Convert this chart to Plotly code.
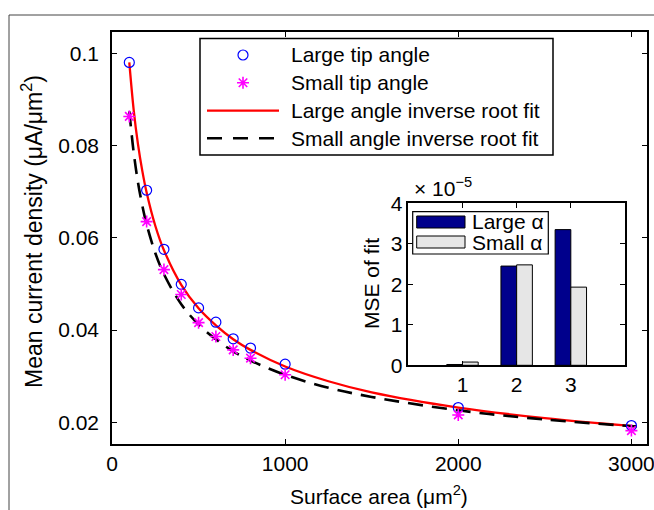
import plotly.graph_objects as go

# ---------------- data ----------------
area = [100, 200, 300, 400, 500, 600, 700, 800, 1000, 2000, 3000]
large_tip = [0.0980, 0.0703, 0.0575, 0.0499, 0.0448, 0.0417, 0.0381, 0.0361, 0.0326, 0.0232, 0.0193]
small_tip = [0.0863, 0.0635, 0.0531, 0.0477, 0.0416, 0.0386, 0.0357, 0.0339, 0.0303, 0.0216, 0.0182]

fit_x = [100, 125, 150, 175, 200, 250, 300, 400, 500, 600, 700, 800, 1000, 1250, 1500, 2000, 2500, 3030]
large_fit = [0.0980, 0.0878, 0.0803, 0.0745, 0.0698, 0.0626, 0.0573, 0.0498, 0.0447, 0.0410, 0.0380,
             0.0357, 0.0321, 0.0289, 0.0265, 0.0232, 0.0209, 0.0191]
small_fit = [0.0874, 0.0786, 0.0720, 0.0670, 0.0629, 0.0567, 0.0521, 0.0456, 0.0412, 0.0380, 0.0354,
             0.0334, 0.0303, 0.0275, 0.0255, 0.0226, 0.0206, 0.0191]

mse_groups = [1, 2, 3]
mse_large = [0.02, 2.45, 3.35]   # x 1e-5
mse_small = [0.08, 2.48, 1.93]   # x 1e-5

x_ticks = [0, 1000, 2000, 3000]
y_ticks = [0.02, 0.04, 0.06, 0.08, 0.1]
y_ticktext = ["0.02", "0.04", "0.06", "0.08", "0.1"]
inset_yticks = [0, 1, 2, 3, 4]

# ---------------- layout geometry ----------------
W, H = 654, 510
L, R, T, B = 112, 7, 32, 66
PW, PH = W - L - R, H - T - B


def px(xp):
    return (xp - L) / PW


def py(yp):
    return (T + PH - yp) / PH


FONT = "Liberation Sans, Arial, Helvetica, sans-serif"
NAVY = "#00008C"
LGRAY = "#E6E6E6"
FS = 21

fig = go.Figure()

# main data
fig.add_trace(go.Scatter(x=fit_x, y=large_fit, mode="lines", line=dict(color="#FF0000", width=2.3, shape="spline"),
                         xaxis="x", yaxis="y", showlegend=False))
fig.add_trace(go.Scatter(x=fit_x, y=small_fit, mode="lines",
                         line=dict(color="black", width=2.6, dash="15px,9px", shape="spline"),
                         xaxis="x", yaxis="y", showlegend=False))
fig.add_trace(go.Scatter(x=area, y=large_tip, mode="markers",
                         marker=dict(symbol="circle-open", size=10, color="#0000FF", line=dict(width=1.2, color="#0000FF")),
                         xaxis="x", yaxis="y", showlegend=False))
fig.add_trace(go.Scatter(x=area, y=small_tip, mode="markers",
                         marker=dict(symbol="asterisk-open", size=10, color="#FF00FF", line=dict(width=1.6, color="#FF00FF")),
                         xaxis="x", yaxis="y", showlegend=False))

# inset bars
fig.add_trace(go.Bar(x=mse_groups, y=mse_large, marker=dict(color=NAVY, line=dict(color="black", width=1)),
                     xaxis="x2", yaxis="y2", showlegend=False))
fig.add_trace(go.Bar(x=mse_groups, y=mse_small, marker=dict(color=LGRAY, line=dict(color="black", width=1)),
                     xaxis="x2", yaxis="y2", showlegend=False))

# legend sample markers (pixel overlay axis)
fig.add_trace(go.Scatter(x=[243], y=[55], mode="markers",
                         marker=dict(symbol="circle-open", size=10, color="#0000FF", line=dict(width=1.2, color="#0000FF")),
                         xaxis="x3", yaxis="y3", showlegend=False))
fig.add_trace(go.Scatter(x=[243], y=[82.7], mode="markers",
                         marker=dict(symbol="asterisk-open", size=10, color="#FF00FF", line=dict(width=1.6, color="#FF00FF")),
                         xaxis="x3", yaxis="y3", showlegend=False))

axis_common = dict(showline=True, linecolor="black", linewidth=1.5, mirror="ticks", ticks="inside",
                   ticklen=5, tickcolor="black", tickwidth=1, showgrid=False, zeroline=False,
                   ticklabeloverflow="allow",
                   tickfont=dict(family=FONT, size=FS, color="black"))

shapes = []
annotations = []

# outer frame
shapes.append(dict(type="rect", xref="paper", yref="paper", x0=px(9), x1=px(700), y0=py(15), y1=py(560),
                   line=dict(color="#444444", width=1), fillcolor="rgba(0,0,0,0)", layer="above"))

# main legend box
shapes.append(dict(type="rect", xref="paper", yref="paper", x0=px(200), x1=px(553), y0=py(38.5), y1=py(155),
                   line=dict(color="black", width=1.5), fillcolor="rgba(0,0,0,0)", layer="above"))
shapes.append(dict(type="line", xref="paper", yref="paper", x0=px(207), x1=px(279), y0=py(110.7), y1=py(110.7),
                   line=dict(color="#FF0000", width=2.3), layer="above"))
shapes.append(dict(type="line", xref="paper", yref="paper", x0=px(207), x1=px(279), y0=py(138.3), y1=py(138.3),
                   line=dict(color="black", width=2.6, dash="15px,11px"), layer="above"))
leg_texts = [("Large tip angle", 55), ("Small tip angle", 82.7),
             ("Large angle inverse root fit", 110.7), ("Small angle inverse root fit", 138.3)]
for txt, yy in leg_texts:
    annotations.append(dict(text=txt, xref="paper", yref="paper", x=px(289), y=py(yy), xanchor="left",
                            yanchor="middle", showarrow=False, font=dict(family=FONT, size=FS, color="black")))

# inset legend
shapes.append(dict(type="rect", xref="paper", yref="paper", x0=px(412.7), x1=px(548.3), y0=py(211.7), y1=py(254),
                   line=dict(color="black", width=1.2), fillcolor="white", layer="above"))
shapes.append(dict(type="rect", xref="paper", yref="paper", x0=px(416.7), x1=px(465), y0=py(216), y1=py(228),
                   line=dict(color="black", width=1), fillcolor=NAVY, layer="above"))
shapes.append(dict(type="rect", xref="paper", yref="paper", x0=px(416.7), x1=px(465), y0=py(236), y1=py(248),
                   line=dict(color="black", width=1), fillcolor=LGRAY, layer="above"))
annotations.append(dict(text="Large α", xref="paper", yref="paper", x=px(470), y=py(221.5), xanchor="left",
                        yanchor="middle", showarrow=False, font=dict(family=FONT, size=FS, color="black")))
annotations.append(dict(text="Small α", xref="paper", yref="paper", x=px(470), y=py(242), xanchor="left",
                        yanchor="middle", showarrow=False, font=dict(family=FONT, size=FS, color="black")))

# inset exponent and y title
annotations.append(dict(text="× 10<sup>−5</sup>", xref="paper", yref="paper", x=px(412), y=py(187), xanchor="left",
                        yanchor="middle", showarrow=False, font=dict(family=FONT, size=FS, color="black")))
annotations.append(dict(text="MSE of fit", xref="paper", yref="paper", x=px(371), y=py(284), xanchor="center",
                        yanchor="middle", textangle=-90, showarrow=False, font=dict(family=FONT, size=FS, color="black")))

# main axis titles
annotations.append(dict(text="Mean current density (μA/μm<sup>2</sup>)", xref="paper", yref="paper", x=px(32),
                        y=py(232), xanchor="center", yanchor="middle", textangle=-90, showarrow=False,
                        font=dict(family=FONT, size=23, color="black")))
annotations.append(dict(text="Surface area (μm<sup>2</sup>)", xref="paper", yref="paper", x=px(379), y=py(495),
                        xanchor="center", yanchor="middle", showarrow=False,
                        font=dict(family=FONT, size=FS, color="black")))

fig.update_layout(
    width=W, height=H, margin=dict(l=L, r=R, t=T, b=B, pad=0),
    template="none", paper_bgcolor="white", plot_bgcolor="rgba(0,0,0,0)",
    showlegend=False, barmode="group", bargap=0.42, bargroupgap=0,
    xaxis=dict(domain=[0, 1], range=[0, 3090], tickvals=x_ticks, anchor="y", **axis_common),
    yaxis=dict(domain=[0, 1], range=[0.0153, 0.1046], tickvals=y_ticks, ticktext=y_ticktext, anchor="x",
               ticklabelstandoff=7, **axis_common),
    xaxis2=dict(domain=[px(408.3), px(625)], range=[0, 4], tickvals=mse_groups, anchor="y2", **axis_common),
    yaxis2=dict(domain=[py(365.3), py(203.3)], range=[0, 4], tickvals=inset_yticks, anchor="x2", **axis_common),
    xaxis3=dict(domain=[0, 1], range=[L, W - R], visible=False, anchor="y3"),
    yaxis3=dict(domain=[0, 1], range=[T + PH, T], visible=False, anchor="x3"),
    shapes=shapes, annotations=annotations,
)

fig.write_html("out.html", config={"displayModeBar": False},
               post_script="document.body.style.margin='0px';document.body.style.overflow='hidden';")
